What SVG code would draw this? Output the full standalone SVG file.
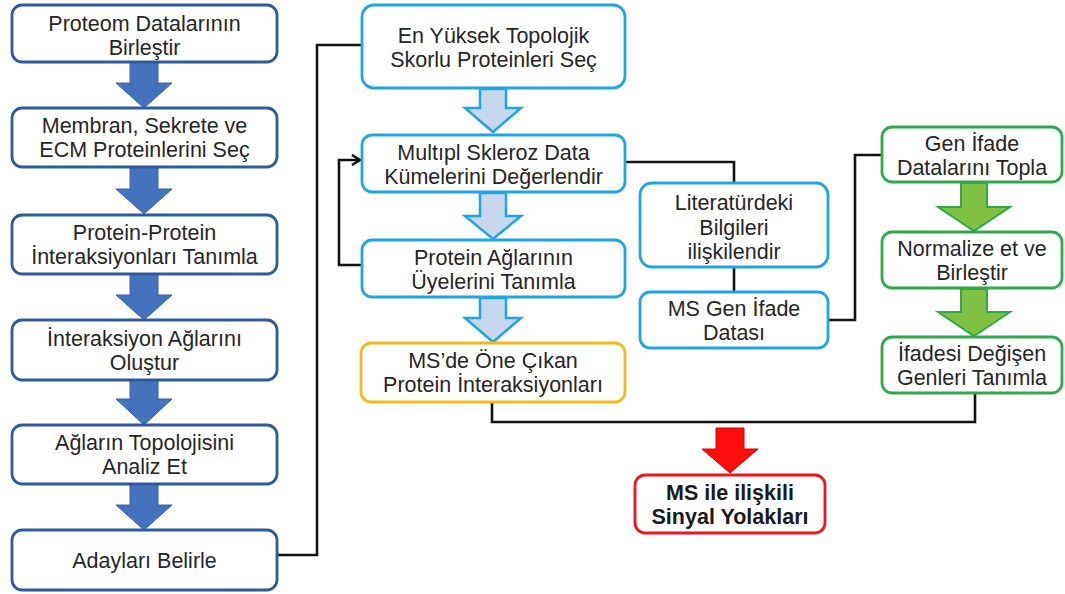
<svg xmlns="http://www.w3.org/2000/svg" width="1065" height="594" viewBox="0 0 1065 594">
<defs>
<style>
.t{font-family:"Liberation Sans",Arial,sans-serif;font-size:21.5px;fill:#262626;text-anchor:middle}
.b{font-weight:bold;fill:#1a1a1a}
.bx{fill:#fff;stroke-width:2.8}
.dk{stroke:#2f5a9e}
.lb{stroke:#1fa5e3}
.ye{stroke:#f6b91a}
.gr{stroke:#2eaa4a}
.rd{stroke:#f0141e}
.ad{fill:#4473bd;stroke:#3a64a8;stroke-width:1}
.al{fill:#c7d7ee;stroke:#1fa5e3;stroke-width:2.5;stroke-linejoin:miter}
.ag{fill:#80c143;stroke:#2eaa4a;stroke-width:2}
.ar{fill:#ff0d0d;stroke:#d40000;stroke-width:1}
.cn{fill:none;stroke:#111;stroke-width:2.6;stroke-linejoin:miter}
</style>
<marker id="chev" viewBox="0 0 12 12" refX="10" refY="6" markerWidth="12" markerHeight="12" markerUnits="userSpaceOnUse" orient="auto">
<path d="M2,1 L10,6 L2,11" fill="none" stroke="#111" stroke-width="2.4"/>
</marker>
</defs>
<rect width="1065" height="594" fill="#fff"/>

<g id="connectors">
<path class="cn" d="M277,555 H317 V45 H362"/>
<path class="cn" d="M362,265 H339 V160 H360" marker-end="url(#chev)"/>
<path class="cn" d="M625,162 H734 V183"/>
<path class="cn" d="M734,267 V292"/>
<path class="cn" d="M828,320 H855 V155 H882"/>
<path class="cn" d="M492,402 V422 H975 V393"/>
<path class="ad" d="M130,62 H158 V83 H172 L144,108 L116,83 H130 Z"/>
<path class="ad" d="M130,167 H158 V189 H172 L144,214 L116,189 H130 Z"/>
<path class="ad" d="M130,274 H158 V295 H172 L144,320 L116,295 H130 Z"/>
<path class="ad" d="M130,380 H158 V399 H172 L144,425 L116,399 H130 Z"/>
<path class="ad" d="M130,484 H158 V505 H172 L144,530 L116,505 H130 Z"/>
<path class="al" d="M480,89 H506 V108 H521 L493,132 L465,108 H480 Z"/>
<path class="al" d="M480,193 H506 V216 H521 L493,239 L465,216 H480 Z"/>
<path class="al" d="M480,298 H506 V318 H521 L493,342 L465,318 H480 Z"/>
<path class="ag" d="M961,183 H987 V207 H1010 L974,231 L938,207 H961 Z"/>
<path class="ag" d="M961,289 H987 V312 H1010 L974,336 L938,312 H961 Z"/>
<path class="ar" d="M716,428 H744 V449 H758 L730,473 L702,449 H716 Z"/>
</g>

<g id="n1"><rect class="bx dk" x="12" y="5" width="265" height="57" rx="10"/>
<text class="t" x="144.5" y="31">Proteom Datalarının</text><text class="t" x="144.5" y="55">Birleştir</text></g>
<g id="n2"><rect class="bx dk" x="12" y="108" width="265" height="59" rx="10"/>
<text class="t" x="144.5" y="133">Membran, Sekrete ve</text><text class="t" x="144.5" y="157">ECM Proteinlerini Seç</text></g>
<g id="n3"><rect class="bx dk" x="12" y="215" width="265" height="59" rx="10"/>
<text class="t" x="144.5" y="240">Protein-Protein</text><text class="t" x="144.5" y="264">İnteraksiyonları Tanımla</text></g>
<g id="n4"><rect class="bx dk" x="12" y="320" width="265" height="60" rx="10"/>
<text class="t" x="144.5" y="346">İnteraksiyon Ağlarını</text><text class="t" x="144.5" y="370">Oluştur</text></g>
<g id="n5"><rect class="bx dk" x="12" y="425" width="265" height="59" rx="10"/>
<text class="t" x="144.5" y="450">Ağların Topolojisini</text><text class="t" x="144.5" y="474">Analiz Et</text></g>
<g id="n6"><rect class="bx dk" x="12" y="530" width="265" height="60" rx="10"/>
<text class="t" x="144.5" y="568">Adayları Belirle</text></g>

<g id="m1"><rect class="bx lb" x="362" y="5" width="263" height="83" rx="12"/>
<text class="t" x="493.5" y="43">En Yüksek Topolojik</text><text class="t" x="493.5" y="67">Skorlu Proteinleri Seç</text></g>
<g id="m2"><rect class="bx lb" x="362" y="135" width="263" height="57" rx="10"/>
<text class="t" x="493.5" y="160">Multıpl Skleroz Data</text><text class="t" x="493.5" y="184">Kümelerini Değerlendir</text></g>
<g id="m3"><rect class="bx lb" x="362" y="240" width="263" height="57" rx="10"/>
<text class="t" x="493.5" y="265">Protein Ağlarının</text><text class="t" x="493.5" y="289">Üyelerini Tanımla</text></g>
<g id="m4"><rect class="bx ye" x="361" y="343" width="264" height="59" rx="10"/>
<text class="t" x="493" y="368">MS’de Öne Çıkan</text><text class="t" x="493" y="392">Protein İnteraksiyonları</text></g>

<g id="l1"><rect class="bx lb" x="640" y="183" width="188" height="84" rx="12"/>
<text class="t" x="734" y="210">Literatürdeki</text><text class="t" x="734" y="235">Bilgileri</text><text class="t" x="734" y="259">ilişkilendir</text></g>
<g id="l2"><rect class="bx lb" x="640" y="292" width="188" height="56" rx="10"/>
<text class="t" x="734" y="316">MS Gen İfade</text><text class="t" x="734" y="340">Datası</text></g>

<g id="g1"><rect class="bx gr" x="882" y="127" width="180" height="55" rx="10"/>
<text class="t" x="972" y="151">Gen İfade</text><text class="t" x="972" y="175">Datalarını Topla</text></g>
<g id="g2"><rect class="bx gr" x="882" y="232" width="180" height="56" rx="10"/>
<text class="t" x="972" y="256">Normalize et ve</text><text class="t" x="972" y="280">Birleştir</text></g>
<g id="g3"><rect class="bx gr" x="882" y="337" width="180" height="56" rx="10"/>
<text class="t" x="972" y="361">İfadesi Değişen</text><text class="t" x="972" y="385">Genleri Tanımla</text></g>

<g id="r1"><rect class="bx rd" x="635" y="475" width="190" height="58" rx="10"/>
<text class="t b" x="730" y="500">MS ile ilişkili</text><text class="t b" x="730" y="524">Sinyal Yolakları</text></g>
</svg>
